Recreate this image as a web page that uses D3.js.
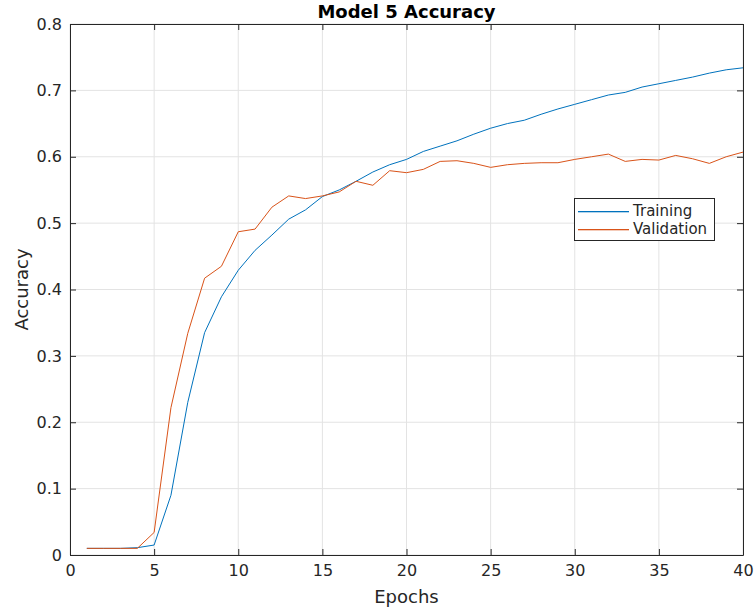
<!DOCTYPE html>
<html><head><meta charset="utf-8">
<script src="https://cdn.jsdelivr.net/npm/d3@7"></script>
<style>body{margin:0;background:#fff;} svg{display:block;font-family:"DejaVu Sans",sans-serif;}</style>
</head><body>
<svg id="c" width="756" height="611"></svg>
<script>
const epochs = d3.range(1, 41);
const training = [0.010,0.010,0.010,0.011,0.015,0.090,0.230,0.335,0.389,0.429,0.459,0.482,0.506,0.520,0.540,0.550,0.563,0.577,0.588,0.596,0.608,0.616,0.624,0.634,0.643,0.650,0.655,0.664,0.672,0.679,0.686,0.693,0.697,0.705,0.710,0.715,0.720,0.726,0.731,0.734];
const validation = [0.010,0.010,0.010,0.010,0.034,0.222,0.334,0.417,0.435,0.487,0.491,0.524,0.541,0.537,0.541,0.547,0.563,0.557,0.579,0.576,0.581,0.593,0.594,0.590,0.584,0.588,0.590,0.591,0.591,0.596,0.600,0.604,0.593,0.596,0.595,0.602,0.597,0.590,0.600,0.607];
const xTicks = [0,5,10,15,20,25,30,35,40];
const yTicks = [0,0.1,0.2,0.3,0.4,0.5,0.6,0.7,0.8];
const seriesNames = ["Training","Validation"];
const trainColor = "#0072BD";
const valColor = "#D95319";
const colors = [trainColor, valColor];

const svg = d3.select("#c");
const L=70, R=743, T=24, B=555;
const x = d3.scaleLinear().domain([0,40]).range([L,R]);
const y = d3.scaleLinear().domain([0,0.8]).range([B,T]);
const axisCol = "#262626";

// grid
svg.append("g").selectAll("line").data(xTicks).join("line")
  .attr("x1",d=>x(d)).attr("x2",d=>x(d)).attr("y1",T).attr("y2",B)
  .attr("stroke","#e3e3e3").attr("stroke-width",1);
svg.append("g").selectAll("line").data(yTicks).join("line")
  .attr("y1",d=>y(d)).attr("y2",d=>y(d)).attr("x1",L).attr("x2",R)
  .attr("stroke","#e3e3e3").attr("stroke-width",1);

// lines
const line = d3.line().x((d,i)=>x(epochs[i])).y(d=>y(d));
[training, validation].forEach((s,k)=>{
  svg.append("path").datum(s).attr("d",line).attr("fill","none")
    .attr("stroke",colors[k]).attr("stroke-width",1);
});

// axes
const fmtX = d=>String(d);
const fmtY = d=> d===0 ? "0" : d3.format(".1f")(d);
const gx = svg.append("g").attr("transform",`translate(0,${B})`)
  .call(d3.axisBottom(x).tickValues(xTicks).tickFormat(fmtX).tickSizeInner(-6).tickSizeOuter(0).tickPadding(10));
const gy = svg.append("g").attr("transform",`translate(${L},0)`)
  .call(d3.axisLeft(y).tickValues(yTicks).tickFormat(fmtY).tickSizeInner(-6).tickSizeOuter(0).tickPadding(8));
const gxt = svg.append("g").attr("transform",`translate(0,${T})`)
  .call(d3.axisTop(x).tickValues(xTicks).tickFormat("").tickSizeInner(-6).tickSizeOuter(0));
const gyr = svg.append("g").attr("transform",`translate(${R},0)`)
  .call(d3.axisRight(y).tickValues(yTicks).tickFormat("").tickSizeInner(-6).tickSizeOuter(0));
[gx,gy,gxt,gyr].forEach(g=>{
  g.select(".domain").attr("stroke",axisCol).attr("stroke-width",1);
  g.selectAll(".tick line").attr("stroke",axisCol);
  g.selectAll(".tick text").attr("fill",axisCol).style("font-size","16px").style("font-family","DejaVu Sans");
});

// title and labels
svg.append("text").attr("x",(L+R)/2).attr("y",18).attr("text-anchor","middle")
  .style("font-size","18px").style("font-weight","bold").attr("fill","#000").text("Model 5 Accuracy");
svg.append("text").attr("x",(L+R)/2).attr("y",603).attr("text-anchor","middle")
  .style("font-size","18px").attr("fill",axisCol).text("Epochs");
svg.append("text").attr("transform",`translate(28,${(T+B)/2}) rotate(-90)`).attr("text-anchor","middle")
  .style("font-size","18px").attr("fill",axisCol).text("Accuracy");

// legend
const lg = svg.append("g");
lg.append("rect").attr("x",574.5).attr("y",198.5).attr("width",140).attr("height",42)
  .attr("fill","#fff").attr("stroke",axisCol).attr("stroke-width",1);
lg.append("rect").attr("x",578).attr("y",211).attr("width",51).attr("height",1.3).attr("fill",trainColor);
lg.append("text").attr("x",633).attr("y",216).style("font-size","15px").attr("fill",axisCol).text(seriesNames[0]);
lg.append("rect").attr("x",578).attr("y",229).attr("width",51).attr("height",1.3).attr("fill",valColor);
lg.append("text").attr("x",633).attr("y",234).style("font-size","15px").attr("fill",axisCol).text(seriesNames[1]);
</script>
</body></html>
